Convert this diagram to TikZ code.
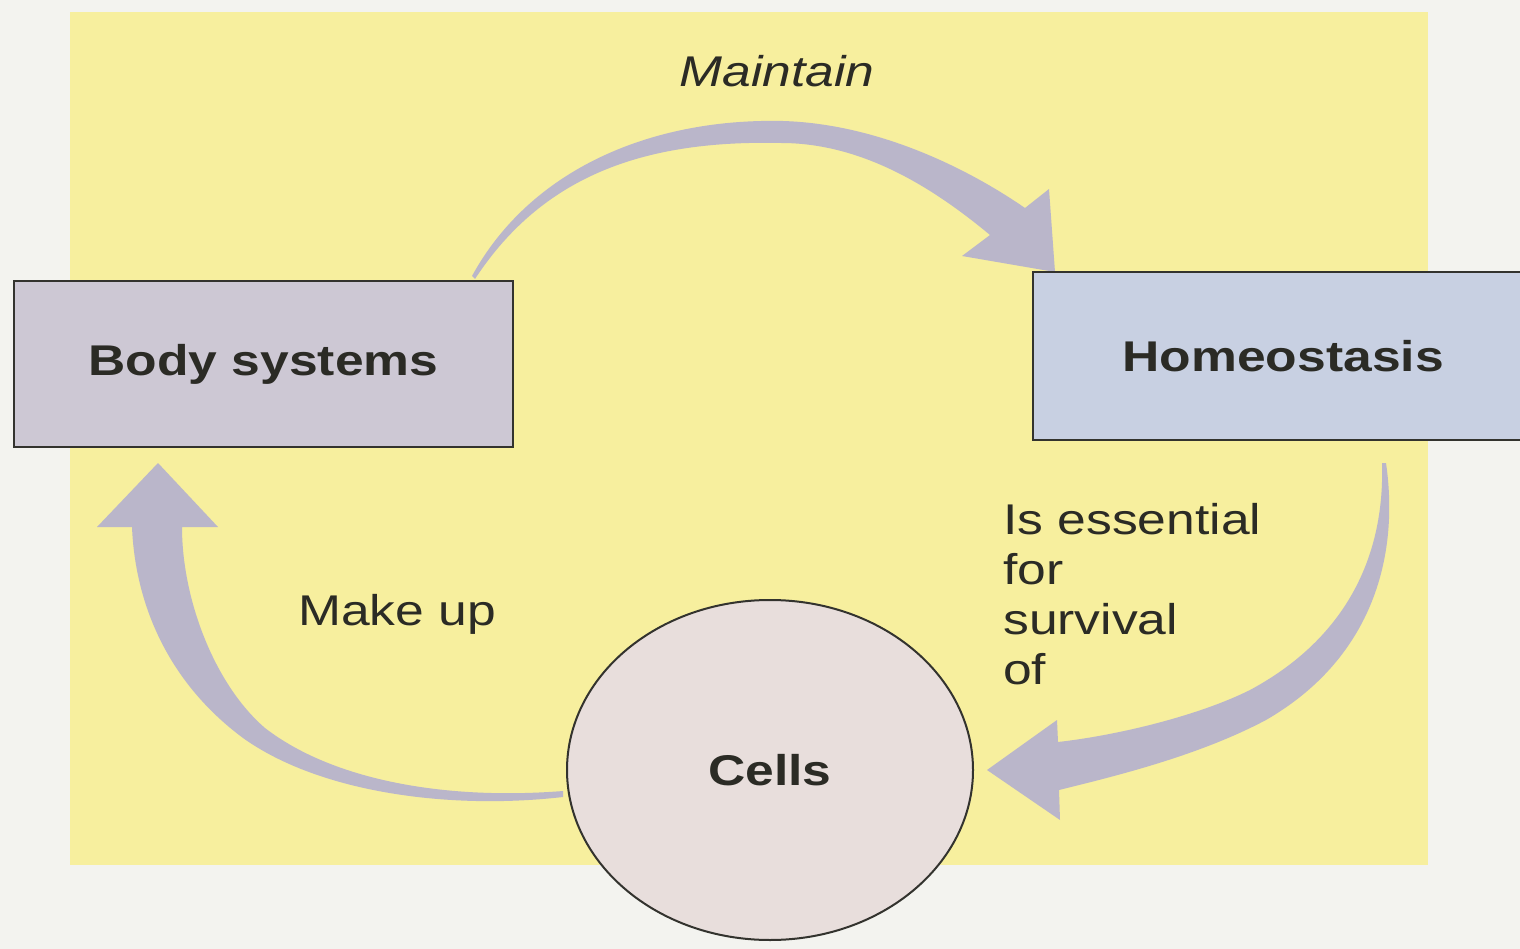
\documentclass[tikz,border=0pt]{standalone}
\usepackage{fontspec}
\newfontfamily\labfont{Liberation Sans}[FakeStretch=1.2]
\usetikzlibrary{shapes.geometric}
\definecolor{pagebg}{HTML}{F3F3EF}
\definecolor{yellowbg}{HTML}{F7EF9E}
\definecolor{bodyfill}{HTML}{CDC8D4}
\definecolor{homfill}{HTML}{C8D0E2}
\definecolor{cellfill}{HTML}{E8DEDC}
\definecolor{arrowfill}{HTML}{BAB6CA}
\definecolor{txt}{HTML}{2B2B25}
\definecolor{edge}{HTML}{33332E}
\tikzset{
  lab/.style={font=\labfont\fontsize{43}{50}\selectfont, text=txt, inner sep=0pt},
  boldlab/.style={font=\labfont\fontsize{43}{50}\selectfont\bfseries, text=txt},
  boxnode/.style={boldlab, draw=edge, line width=2.5pt, rectangle},
  fatarrow/.style={fill=arrowfill},
}
\begin{document}
\begin{tikzpicture}[x=1pt,y=-1pt]
\useasboundingbox (0,0) rectangle (1520,949);
\fill[pagebg] (0,0) rectangle (1520,949);
\fill[yellowbg] (70,12) rectangle (1428,865);

% named end points of the broad arrows
\coordinate (mtail) at (472,276);
\coordinate (mtip) at (1055,272);
\coordinate (etail) at (1383,463);
\coordinate (etip) at (987,770);
\coordinate (utail) at (563,794);
\coordinate (utip) at (158,463);

% Maintain arrow
\fill[fatarrow] (mtail) .. controls (530,170) and (650,118) .. (783,121)
  .. controls (880,124) and (970,170) .. (1025,208)
  -- (1049,189) -- (mtip) -- (962,256) -- (990,235)
  .. controls (930,185) and (860,143) .. (781,143)
  .. controls (650,140) and (545,172) .. (475,279) -- cycle;

% Is essential arrow
\fill[fatarrow] (etail) -- (1386,463) .. controls (1400,560) and (1370,660) .. (1266,720)
  .. controls (1200,755) and (1120,775) .. (1059,790)
  -- (1060,820) -- (etip) -- (1057,720) -- (1058,742)
  .. controls (1120,735) and (1200,715) .. (1250,690)
  .. controls (1343,640) and (1385,560) .. (1382,463) -- cycle;

% Make up arrow
\fill[fatarrow] (utail) -- (563,797) .. controls (450,810) and (320,793) .. (243,738)
  .. controls (165,680) and (135,600) .. (132,527)
  -- (97,527) -- (utip) -- (218,527) -- (182,527)
  .. controls (182,600) and (215,685) .. (265,728)
  .. controls (335,782) and (450,800) .. (563,791) -- cycle;

% boxes
\node[boxnode, fill=bodyfill, minimum width=499pt, minimum height=166pt] (body) at (263.5,364) {Body systems};
\node[boldlab, fill=homfill, minimum width=487pt, minimum height=168pt, anchor=west] (homeo) at (1033,356) {\hspace*{13pt}Homeostasis};
\draw[edge, line width=2.5pt] (homeo.north east) -- (homeo.north west) -- (homeo.south west) -- (homeo.south east);
\node[boldlab, ellipse, draw=edge, line width=2pt, fill=cellfill, minimum width=406pt, minimum height=340pt, inner sep=0pt] (cells) at (770,770) {Cells};

% labels
\node[lab, anchor=base, font=\labfont\fontsize{43}{50}\selectfont\itshape] (lmaint) at (777,87) {Maintain};
\node[lab, anchor=base west] (lmake) at (298,625) {Make up};
\node[lab, anchor=north west, align=left] (less) at (1003,503) {Is essential\\for\\survival\\of};
\end{tikzpicture}
\end{document}
